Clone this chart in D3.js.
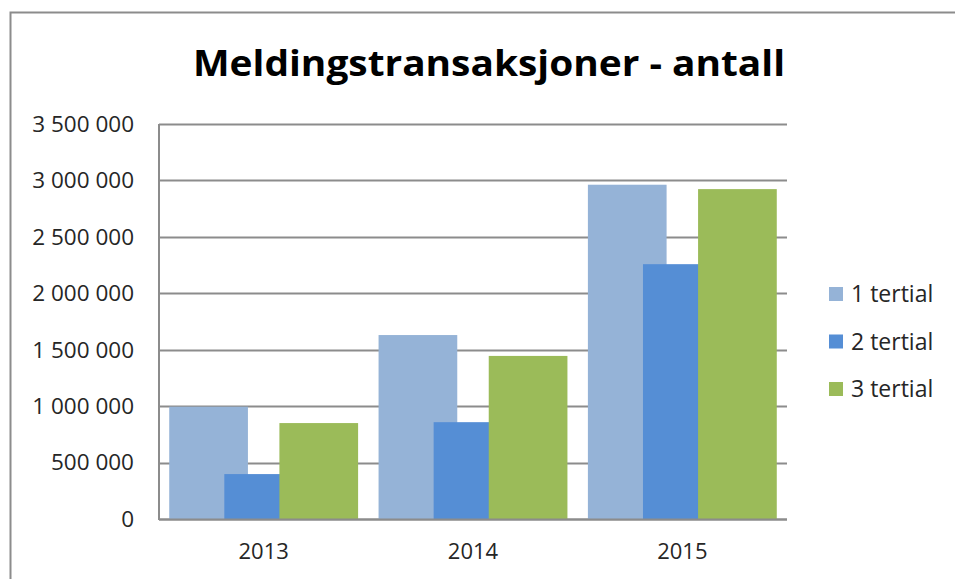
<!DOCTYPE html>
<html>
<head>
<meta charset="utf-8">
<script src="https://cdn.jsdelivr.net/npm/d3@7"></script>
<style>
  body { margin: 0; background: #fff; }
  text { font-family: "Open Sans", "Noto Sans", sans-serif; }
</style>
</head>
<body>
<svg width="955" height="579"></svg>
<script>
var years = ["2013", "2014", "2015"];
var series = ["1 tertial", "2 tertial", "3 tertial"];
var tertial1 = [995000, 1630000, 2962000];
var tertial2 = [398000, 858000, 2258000];
var tertial3 = [850000, 1445000, 2923000];
var yTicks = [0, 500000, 1000000, 1500000, 2000000, 2500000, 3000000, 3500000];
var colors = ["#95b3d7", "#558ed5", "#9bbb59"];

var svg = d3.select("svg"),
    width = +svg.attr("width"),
    height = +svg.attr("height");

var values = [tertial1, tertial2, tertial3];

// chart frame
svg.append("path")
    .attr("d", "M10.5," + height + "V12.5H" + width)
    .attr("fill", "none")
    .attr("stroke", "#8c8c8c")
    .attr("stroke-width", 2);

svg.append("text")
    .attr("x", 489)
    .attr("y", 76)
    .attr("text-anchor", "middle")
    .attr("textLength", 592)
    .attr("lengthAdjust", "spacingAndGlyphs")
    .style("font-size", "36px")
    .style("font-weight", "bold")
    .style("fill", "#000")
    .text("Meldingstransaksjoner - antall");

var pLeft = 159, pRight = 787, pTop = 124, pBottom = 519;

var x = d3.scaleBand().domain(years).range([pLeft, pRight]);
var y = d3.scaleLinear().domain([0, 3500000]).range([pBottom, pTop]);

// excel style gap width and overlap
var gap = 0.26, overlap = 0.3;
var barW = x.bandwidth() / (gap + 1 + 2 * (1 - overlap));
var step = barW * (1 - overlap);

var fmt = function(d) { return d3.format(",")(d).replace(/,/g, " "); };

svg.append("g")
  .selectAll("line")
  .data(yTicks)
  .enter().append("line")
    .attr("x1", pLeft)
    .attr("x2", pRight)
    .attr("y1", function(d) { return Math.round(y(d)) + 0.5; })
    .attr("y2", function(d) { return Math.round(y(d)) + 0.5; })
    .attr("stroke", "#8c8c8c")
    .attr("stroke-width", 2);

svg.append("g")
  .selectAll("text")
  .data(yTicks)
  .enter().append("text")
    .attr("x", 134)
    .attr("y", function(d) { return y(d); })
    .attr("dy", "0.35em")
    .attr("text-anchor", "end")
    .style("font-size", "22.5px")
    .style("fill", "#262626")
    .text(fmt);

var groups = svg.append("g")
  .selectAll("g")
  .data(values)
  .enter().append("g")
    .attr("fill", function(d, i) { return colors[i]; });

groups.selectAll("rect")
  .data(function(d, i) { return d.map(function(v, j) { return {s: i, year: years[j], v: v}; }); })
  .enter().append("rect")
    .attr("x", function(d) { return x(d.year) + barW * gap / 2 + d.s * step; })
    .attr("width", barW)
    .attr("y", function(d) { return y(d.v); })
    .attr("height", function(d) { return pBottom - y(d.v); });

// axis lines
svg.append("line")
    .attr("x1", pLeft).attr("x2", pLeft)
    .attr("y1", pTop).attr("y2", pBottom + 1)
    .attr("stroke", "#8c8c8c").attr("stroke-width", 2);
svg.append("line")
    .attr("x1", pLeft).attr("x2", pRight)
    .attr("y1", pBottom + 0.5).attr("y2", pBottom + 0.5)
    .attr("stroke", "#8c8c8c").attr("stroke-width", 2);

svg.append("g")
  .selectAll("text")
  .data(years)
  .enter().append("text")
    .attr("x", function(d) { return x(d) + x.bandwidth() / 2; })
    .attr("y", 551)
    .attr("dy", "0.35em")
    .attr("text-anchor", "middle")
    .style("font-size", "22px")
    .style("fill", "#262626")
    .text(function(d) { return d; });

var legend = svg.append("g")
  .selectAll("g")
  .data(series)
  .enter().append("g")
    .attr("transform", function(d, i) { return "translate(829," + (294 + i * 47.5) + ")"; });

legend.append("rect")
    .attr("x", 0)
    .attr("y", -7)
    .attr("width", 14)
    .attr("height", 14)
    .attr("fill", function(d, i) { return colors[i]; });

legend.append("text")
    .attr("x", 22)
    .attr("dy", "0.35em")
    .style("font-size", "23px")
    .style("fill", "#262626")
    .text(function(d) { return d; });
</script>
</body>
</html>
